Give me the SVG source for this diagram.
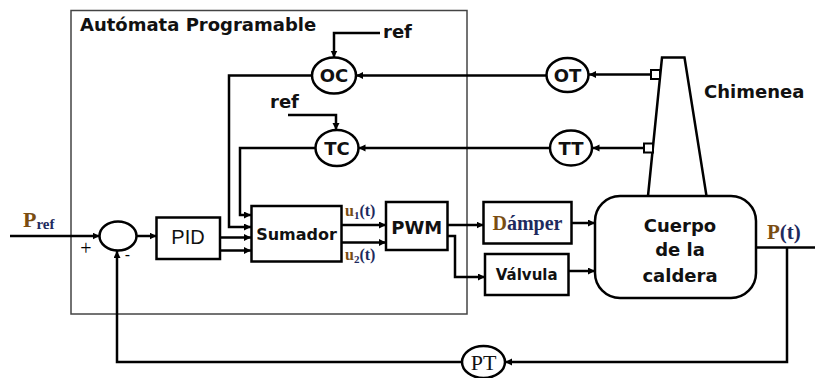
<svg xmlns="http://www.w3.org/2000/svg" width="815" height="378" viewBox="0 0 815 378">
<defs>
<marker id="arr" markerUnits="userSpaceOnUse" markerWidth="8" markerHeight="8" refX="7" refY="3.5" orient="auto">
<path d="M0,0 L7,3.5 L0,7 z" fill="#000"/>
</marker>
<style>
.ln{fill:none;stroke:#000;stroke-width:2.5;}
.ar{marker-end:url(#arr);}
.bx{fill:#fff;stroke:#000;stroke-width:2.5;}
.sb{font-family:"DejaVu Sans",Verdana,sans-serif;font-weight:bold;fill:#111;}
.sr{font-family:"Liberation Serif","Times New Roman",serif;font-weight:bold;fill:#1e2a5e;}
.br{fill:#7a4d12;}
.c{text-anchor:middle;}
</style>
</defs>
<rect width="815" height="378" fill="#fff"/>

<g id="frame">
<rect x="71" y="10.5" width="396" height="303.5" fill="none" stroke="#444" stroke-width="1.5"/>
<text class="sb" x="80" y="31" font-size="18">Autómata Programable</text>
</g>

<g id="connectors">
<line class="ln ar" x1="10" y1="236" x2="99.5" y2="236"/>
<line class="ln ar" x1="136.5" y1="236" x2="156.5" y2="236"/>
<line class="ln ar" x1="220" y1="237.5" x2="251" y2="237.5"/>
<line class="ln ar" x1="220" y1="250.5" x2="251" y2="250.5"/>
<polyline class="ln ar" points="312,75.5 229,75.5 229,227 251,227"/>
<polyline class="ln ar" points="315.5,148 240,148 240,215 251,215"/>
<polyline class="ln ar" points="380,33 334,33 334,57.5"/>
<polyline class="ln ar" points="288,115 336,115 336,130"/>
<line class="ln ar" x1="546.5" y1="75.5" x2="356" y2="75.5"/>
<line class="ln ar" x1="549.5" y1="148" x2="358.5" y2="148"/>
<line class="ln ar" x1="651" y1="74.5" x2="589" y2="74.5"/>
<line class="ln ar" x1="644" y1="148" x2="592.5" y2="148"/>
<line class="ln ar" x1="341.5" y1="225" x2="386" y2="225"/>
<line class="ln ar" x1="341.5" y1="242.5" x2="386" y2="242.5"/>
<line class="ln ar" x1="447.5" y1="225" x2="483.5" y2="225"/>
<polyline class="ln ar" points="447.5,236 455,236 455,277 485,277"/>
<line class="ln ar" x1="571.5" y1="223" x2="595" y2="223"/>
<line class="ln ar" x1="568.5" y1="271" x2="595" y2="271"/>
<line class="ln" x1="756" y1="247.5" x2="815" y2="247.5"/>
<polyline class="ln ar" points="787,247.5 787,362 505,362"/>
<polyline class="ln ar" points="462,362 117,362 117,251"/>
</g>

<g id="junction">
<ellipse class="bx" cx="118" cy="236" rx="18.5" ry="14.5"/>
<text x="86" y="254.5" font-family="Liberation Serif,serif" font-size="20" class="c">+</text>
<text x="127.5" y="260" font-family="Liberation Sans,Arial,sans-serif" font-size="16" class="c">-</text>
</g>

<g id="pref">
<text class="sr" x="23" y="227" font-size="22"><tspan class="br">P</tspan><tspan font-size="15" dy="2">ref</tspan></text>
</g>

<g id="pid">
<rect class="bx" x="156.5" y="217.5" width="63.5" height="41.5"/>
<text x="188" y="243.5" font-family="Liberation Sans,Arial,sans-serif" font-size="20" class="c" fill="#111">PID</text>
</g>

<g id="sumador">
<rect class="bx" x="251.5" y="206" width="90" height="55.5"/>
<text class="sb c" x="296.5" y="239.5" font-size="16">Sumador</text>
</g>

<g id="u1">
<text class="sr" x="345" y="216" font-size="16"><tspan class="br">u</tspan><tspan font-size="11" dy="3">1</tspan><tspan dy="-3">(t)</tspan></text>
</g>
<g id="u2">
<text class="sr" x="345" y="260" font-size="16"><tspan class="br">u</tspan><tspan font-size="11" dy="3">2</tspan><tspan dy="-3">(t)</tspan></text>
</g>

<g id="pwm">
<rect class="bx" x="386" y="202" width="61.5" height="48"/>
<text class="sb c" x="416.7" y="234" font-size="18">PWM</text>
</g>

<g id="damper">
<rect class="bx" x="483.5" y="202" width="88" height="41.5"/>
<text class="sr c" x="527.5" y="229.5" font-size="20"><tspan class="br">D</tspan>ámper</text>
</g>

<g id="valvula">
<rect class="bx" x="485" y="254" width="83.5" height="41"/>
<text class="sb c" x="526.7" y="280" font-size="15">Válvula</text>
</g>

<g id="oc">
<ellipse class="bx" cx="334" cy="75.5" rx="22" ry="18"/>
<text class="sb c" x="334" y="82" font-size="18">OC</text>
</g>
<g id="oc-ref">
<text class="sb" x="383" y="38" font-size="18">ref</text>
</g>

<g id="tc">
<ellipse class="bx" cx="337" cy="148" rx="21.5" ry="18"/>
<text class="sb c" x="337" y="154.5" font-size="18">TC</text>
</g>
<g id="tc-ref">
<text class="sb" x="270" y="108" font-size="18">ref</text>
</g>

<g id="ot">
<ellipse class="bx" cx="567.5" cy="75" rx="21" ry="17"/>
<text class="sb c" x="567.5" y="81.5" font-size="18">OT</text>
</g>

<g id="tt">
<ellipse class="bx" cx="571" cy="148" rx="21" ry="17.5"/>
<text class="sb c" x="571" y="154.5" font-size="18">TT</text>
</g>

<g id="chimenea">
<polyline class="ln" points="648,196 662,57.5 684.5,57.5 706.5,196"/>
<rect x="651" y="70" width="9" height="9" fill="#fff" stroke="#000" stroke-width="2"/>
<rect x="644" y="143.5" width="9" height="9" fill="#fff" stroke="#000" stroke-width="2"/>
<text class="sb" x="704" y="98" font-size="18">Chimenea</text>
</g>

<g id="cuerpo">
<rect class="bx" x="595" y="196" width="161" height="102" rx="25"/>
<text class="sb c" x="680" y="232" font-size="18">Cuerpo</text>
<text class="sb c" x="680" y="256" font-size="18">de la</text>
<text class="sb c" x="680" y="282" font-size="18">caldera</text>
</g>

<g id="pt-out">
<text class="sr" x="767" y="239" font-size="21"><tspan class="br">P</tspan>(t)</text>
</g>

<g id="pt">
<ellipse class="bx" cx="483.5" cy="362" rx="21.5" ry="16"/>
<text x="483.5" y="369.5" font-family="Liberation Serif,serif" font-size="22" class="c" fill="#111">PT</text>
</g>
</svg>
